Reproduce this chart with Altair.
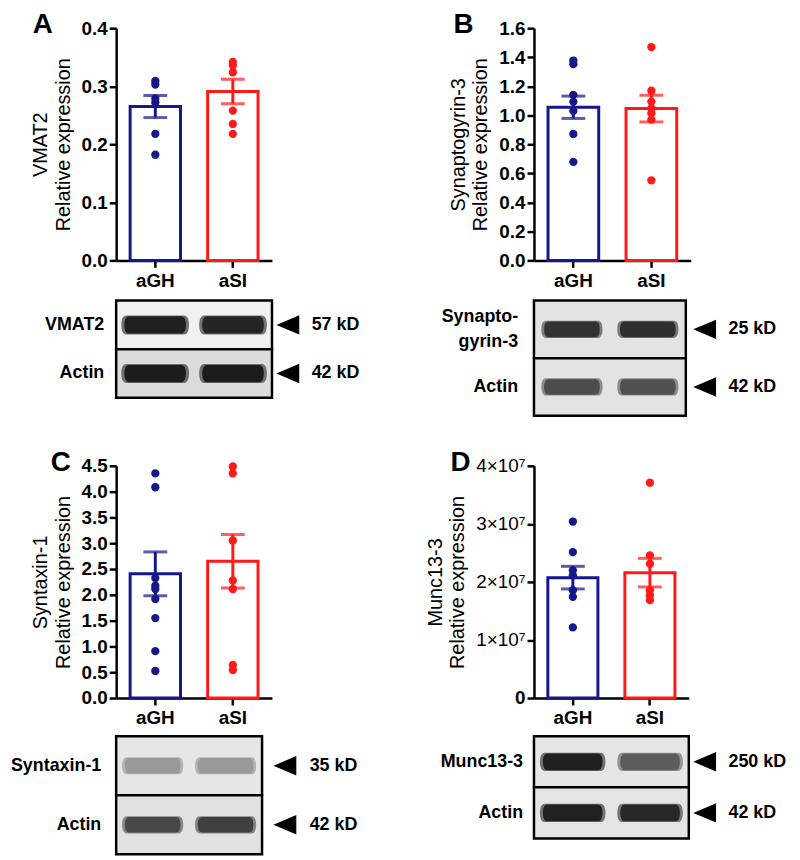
import altair as alt
import pandas as pd

GROUPS = ["aGH", "aSI"]
COLORS = ["#15178a", "#ff1a1a"]

# ---------------- bar-chart data ----------------
A_mean = [0.265, 0.291]
A_sem = [0.019, 0.021]
A_gh = [0.309, 0.303, 0.279, 0.272, 0.218, 0.182]
A_si = [0.342, 0.336, 0.324, 0.258, 0.235, 0.218]
A_ticks = [0.0, 0.1, 0.2, 0.3, 0.4]

B_mean = [1.055, 1.046]
B_sem = [0.077, 0.092]
B_gh = [1.377, 1.352, 1.14, 1.094, 1.03, 0.871, 0.679]
B_si = [1.47, 1.169, 1.094, 1.048, 1.014, 0.97, 0.552]
B_ticks = [0.0, 0.2, 0.4, 0.6, 0.8, 1.0, 1.2, 1.4, 1.6]

C_mean = [2.407, 2.65]
C_sem = [0.425, 0.517]
C_gh = [4.353, 4.085, 2.324, 2.177, 2.113, 1.92, 1.549, 0.909, 0.525]
C_si = [4.488, 4.353, 3.054, 2.279, 2.113, 0.64, 0.544]
C_ticks = [0.0, 0.5, 1.0, 1.5, 2.0, 2.5, 3.0, 3.5, 4.0, 4.5]

D_mean = [2.074e7, 2.16e7]
D_sem = [0.195e7, 0.246e7]
D_gh = [3.04e7, 2.514e7, 2.2e7, 2.114e7, 1.857e7, 1.743e7, 1.217e7]
D_si = [3.709e7, 2.457e7, 2.314e7, 1.857e7, 1.771e7, 1.686e7]
D_ticks = [0, 1e7, 2e7, 3e7, 4e7]

# ---------------- western-blot data ----------------
A_rows = ["VMAT2", "Actin"]
A_kd = ["57 kD", "42 kD"]
A_signal = [[0.93, 0.9], [0.95, 0.95]]

B_rows = ["Synapto-\ngyrin-3", "Actin"]
B_kd = ["25 kD", "42 kD"]
B_signal = [[0.82, 0.84], [0.68, 0.66]]

C_rows = ["Syntaxin-1", "Actin"]
C_kd = ["35 kD", "42 kD"]
C_signal = [[0.3, 0.3], [0.7, 0.75]]

D_rows = ["Munc13-3", "Actin"]
D_kd = ["250 kD", "42 kD"]
D_signal = [[0.93, 0.6], [0.92, 0.88]]

FONT = "Liberation Sans"
BAR_H = 234
BLOT_CELL_H = 136
LINE_H = 25


def bar_panel(letter, name, means, sems, gh, si, ticks, width, letter_dx, label_expr=None):
    summary = pd.DataFrame({
        "group": GROUPS,
        "mean": means,
        "lo": [m - s for m, s in zip(means, sems)],
        "hi": [m + s for m, s in zip(means, sems)],
    })
    pts = pd.DataFrame({"group": ["aGH"] * len(gh) + ["aSI"] * len(si), "value": gh + si})
    xs = alt.Scale(domain=GROUPS, paddingInner=0.35, paddingOuter=0.18)
    ys = alt.Scale(domain=[0, ticks[-1]], nice=False, zero=True)
    cs = alt.Scale(domain=GROUPS, range=COLORS)
    yax = dict(values=ticks, tickCount=len(ticks) + 2, title=[name, "Relative expression"],
               grid=False, titleFontSize=20, titleFontWeight="normal", titleColor="black",
               titleLineHeight=23, titlePadding=8,
               labelFontSize=19, labelFontWeight="bold", labelColor="black",
               labelOverlap=False, labelFlush=False,
               labelPadding=2, domainColor="black", domainWidth=2.5,
               tickColor="black", tickWidth=2.5, tickSize=7)
    if label_expr:
        yax["labelExpr"] = label_expr
        yax["labelFontWeight"] = {"condition": {"test": "datum.value == 0", "value": "bold"},
                                  "value": "normal"}
    else:
        yax["format"] = ".1f"
    x = alt.X("group:N", scale=xs, sort=GROUPS,
              axis=alt.Axis(title=None, labelAngle=0, labelFontSize=19, labelFontWeight="bold",
                            labelColor="black", labelPadding=4, domainColor="black",
                            domainWidth=2.5, tickColor="black", tickWidth=2.5, tickSize=7))
    col = alt.Color("group:N", scale=cs, legend=None)
    bars = alt.Chart(summary).mark_bar(fill="white", strokeWidth=3).encode(
        x=x, y=alt.Y("mean:Q", scale=ys, axis=alt.Axis(**yax)),
        stroke=alt.Stroke("group:N", scale=cs, legend=None))
    dots = alt.Chart(pts).mark_circle(size=70, opacity=1).encode(
        x=x, y=alt.Y("value:Q", scale=ys), color=col)
    err = alt.Chart(summary).mark_rule(strokeWidth=3).encode(
        x=x, y=alt.Y("lo:Q", scale=ys), y2="hi:Q", color=col)
    cap_lo = alt.Chart(summary).mark_tick(thickness=3, size=24).encode(
        x=x, y=alt.Y("lo:Q", scale=ys), color=col)
    cap_hi = alt.Chart(summary).mark_tick(thickness=3, size=24).encode(
        x=x, y=alt.Y("hi:Q", scale=ys), color=col)
    return alt.layer(bars, dots, err, cap_lo, cap_hi).properties(
        width=width, height=BAR_H,
        title=alt.TitleParams(letter, anchor="start", frame="group", fontSize=28,
                              fontWeight="bold", color="black", dx=letter_dx, dy=0, offset=-20))


BAND = "M-0.85,-0.28 C-0.96,-0.28 -1,-0.15 -1,0 C-1,0.15 -0.96,0.28 -0.85,0.28 L0.85,0.28 C0.96,0.28 1,0.15 1,0 C1,-0.15 0.96,-0.28 0.85,-0.28 Z"
ARROW = "M-1,0 L1,-0.85 L1,0.85 Z"


def blot(rows, kds, signal, bgs, width, y_range, band_w, arrow_dx, kd_dx, label_dx):
    band_h = (y_range[1] - y_range[0]) / len(rows)
    rowdf = pd.DataFrame({"row": rows, "kd": kds, "bg": bgs})
    rowdf["shift"] = [band_h / 2 - LINE_H / 2 * r.count("\n") for r in rows]
    bands = pd.DataFrame({
        "row": [r for r in rows for _ in GROUPS],
        "lane": [g for _ in rows for g in GROUPS],
        "signal": [s for srow in signal for s in srow],
    })
    ys = alt.Scale(domain=rows, paddingInner=0, paddingOuter=0, range=y_range)
    xs = alt.Scale(domain=GROUPS, paddingInner=0.35, paddingOuter=0.18)
    y = alt.Y("row:N", scale=ys, axis=None, sort=rows)
    xl = alt.X("lane:N", scale=xs, axis=None, sort=GROUPS)
    bg = alt.Chart(rowdf).mark_rect(stroke="black", strokeWidth=2.5).encode(
        y=y, fill=alt.Fill("bg:N", scale=None))
    halo = alt.Chart(bands).mark_point(shape=BAND, filled=True, strokeWidth=0, opacity=1,
                                       size=(band_w * 1.1) ** 2).encode(
        x=xl, y=y, color=alt.Color("signal:Q", scale=alt.Scale(domain=[0, 1], range=["#d6d6d6", "#6a6a6a"]), legend=None))
    core = alt.Chart(bands).mark_point(shape=BAND, filled=True, strokeWidth=0, opacity=1,
                                       size=band_w ** 2).encode(
        x=xl, y=y, color=alt.Color("signal:Q", scale=alt.Scale(domain=[0, 1], range=["#dcdcdc", "#141414"]), legend=None))
    arrow = alt.Chart(rowdf).mark_point(shape=ARROW, filled=True, size=23 ** 2, color="black",
                                        opacity=1, strokeWidth=0).encode(
        x=alt.value(width + arrow_dx), y=y)
    kd = alt.Chart(rowdf).mark_text(align="left", baseline="middle", fontSize=18,
                                    fontWeight="bold", color="black").encode(
        x=alt.value(width + kd_dx), y=y, text="kd:N")
    lab = alt.Chart(rowdf).mark_text(align="right", baseline="middle", fontSize=18,
                                     fontWeight="bold", color="black", lineBreak="\n",
                                     lineHeight=LINE_H).encode(
        x=alt.value(-label_dx), y=y, yOffset=alt.YOffset("shift:Q", scale=None), text="row:N")
    return alt.layer(bg, halo, core, arrow, kd, lab).resolve_scale(color="independent").properties(
        width=width, height=BLOT_CELL_H)


barA = bar_panel("A", "VMAT2", A_mean, A_sem, A_gh, A_si, A_ticks, 157, -84)
barB = bar_panel("B", "Synaptogyrin-3", B_mean, B_sem, B_gh, B_si, B_ticks, 158, -81)
barC = bar_panel("C", "Syntaxin-1", C_mean, C_sem, C_gh, C_si, C_ticks, 157, -66)
barD = bar_panel("D", "Munc13-3", D_mean, D_sem, D_gh, D_si, D_ticks, 156, -84,
                 label_expr="datum.value == 0 ? '0' : format(datum.value / 1e7, 'd') + '×10⁷'")

blotA = blot(A_rows, A_kd, A_signal, ["#f1f1f1", "#dcdcdc"], 157, [5, 103], 62, 16, 40, 12)
blotB = blot(B_rows, B_kd, B_signal, ["#e3e3e3", "#e3e3e3"], 153, [5, 121], 56, 19, 43, 16)
blotC = blot(C_rows, C_kd, C_signal, ["#e6e6e6", "#e2e2e2"], 147, [3, 122], 56, 23, 48, 15)
blotD = blot(D_rows, D_kd, D_signal, ["#e6e6e6", "#e4e4e4"], 156, [3, 106], 60, 16, 40, 11)

chart = alt.concat(
    barA, barB, blotA, blotB, barC, barD, blotC, blotD,
    columns=2, bounds="flush", spacing={"row": 35.5, "column": 264},
).configure(
    font=FONT, padding={"left": 2, "top": 0, "right": 5, "bottom": 5}, background="white"
).configure_view(stroke=None)

chart.save("out.html", embed_options={"renderer": "svg", "actions": False})
